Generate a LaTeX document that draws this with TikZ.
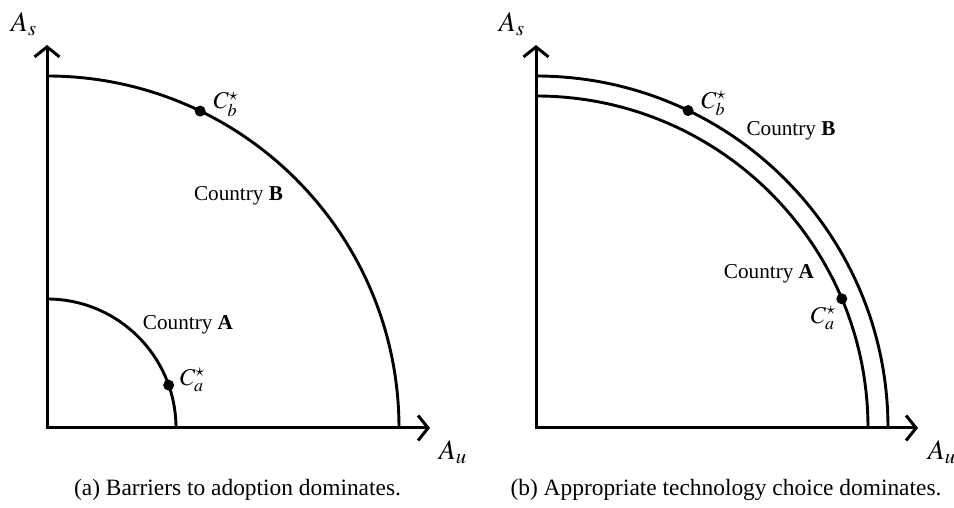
\documentclass[tikz,border=0pt]{standalone}
\usepackage{mathptmx}
\usepackage{fontspec}
\setmainfont{Liberation Serif}
\usetikzlibrary{positioning, arrows.meta}

\begin{document}
\begin{tikzpicture}[x=0.5pt, y=0.5pt,
  axis/.style={line width=1.5pt, line join=miter,
    {Straight Barb[length=5pt,width=12.5pt,line width=1.5pt]}-{Straight Barb[length=5pt,width=12.5pt,line width=1.5pt]}},
  frontier/.style={line width=1.45pt},
  dot/.style={circle, fill=black, inner sep=0pt, minimum size=5.5pt},
  axislabel/.style={font=\fontsize{14}{16}\selectfont, inner sep=0pt},
  ptlabel/.style={font=\fontsize{12}{14}\selectfont, inner sep=0pt},
  country/.style={font=\fontsize{10.6}{13}\selectfont, inner sep=0pt},
  caption/.style={font=\fontsize{11.7}{14}\selectfont, inner sep=0pt}]
\useasboundingbox (0,0) rectangle (954,508);

% (a) barriers to adoption
\begin{scope}[shift={(47,80)}]
  \coordinate (Oa) at (0,0);
  \coordinate (Ya) at (0,383);
  \coordinate (Xa) at (383,0);
  \draw[axis] (Ya) -- (Oa) -- (Xa);
  \draw[frontier] (0,352) arc[start angle=90, end angle=0, radius=352];
  \draw[frontier] (0,129) arc[start angle=90, end angle=0, radius=129];
  \node[dot] (cba) at (64.2:352) {};
  \node[dot] (caa) at (19.4:129) {};
  \node[ptlabel, right=3.5pt of cba, yshift=3.5pt] (cbalab) {$C_b^\star$};
  \node[ptlabel, right=2.5pt of caa, yshift=2.5pt] (caalab) {$C_a^\star$};
  \node[country] (countryba) at (191.5,232) {Country \textbf{B}};
  \node[country] (countryaa) at (141,103) {Country \textbf{A}};
  \node[axislabel] (asa) at (-23,404) {$A_s$};
  \node[axislabel] (aua) at (406,-24) {$A_u$};
\end{scope}
\node[caption] (capa) at (237.5,18) {(a) Barriers to adoption dominates.};

% (b) appropriate technology choice
\begin{scope}[shift={(536,80)}]
  \coordinate (Ob) at (0,0);
  \coordinate (Yb) at (0,383);
  \coordinate (Xb) at (382,0);
  \draw[axis] (Yb) -- (Ob) -- (Xb);
  \draw[frontier] (0,352) arc[start angle=90, end angle=0, radius=352];
  \draw[frontier] (0,332) arc[start angle=90, end angle=0, radius=332];
  \node[dot] (cbb) at (64.4:352) {};
  \node[dot] (cab) at (22.9:332) {};
  \node[ptlabel, right=3.5pt of cbb, yshift=3.5pt] (cbblab) {$C_b^\star$};
  \node[ptlabel, below left=1.5pt and 0.5pt of cab] (cablab) {$C_a^\star$};
  \node[country] (countrybb) at (255,297) {Country \textbf{B}};
  \node[country] (countryab) at (233,154) {Country \textbf{A}};
  \node[axislabel] (asb) at (-24,404) {$A_s$};
  \node[axislabel] (aub) at (406,-24) {$A_u$};
\end{scope}
\node[caption] (capb) at (726,18) {(b) Appropriate technology choice dominates.};
\end{tikzpicture}
\end{document}
